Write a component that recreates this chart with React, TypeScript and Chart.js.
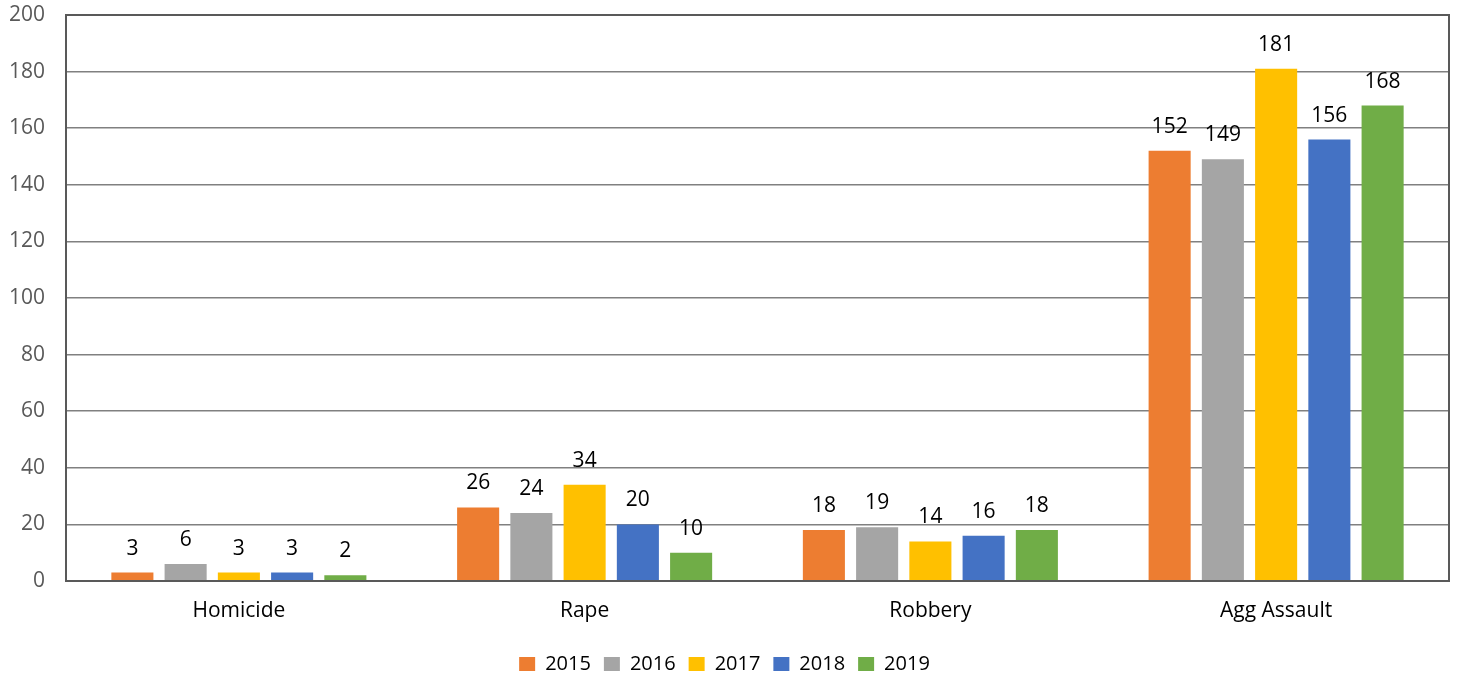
import React, { useEffect, useRef } from "react";
import { Chart, registerables } from "chart.js";

Chart.register(...registerables);

const categories = ["Homicide", "Rape", "Robbery", "Agg Assault"];
const seriesNames = ["2015", "2016", "2017", "2018", "2019"];
const values2015 = [3, 26, 18, 152];
const values2016 = [6, 24, 19, 149];
const values2017 = [3, 34, 14, 181];
const values2018 = [3, 20, 16, 156];
const values2019 = [2, 10, 18, 168];
const seriesColors = ["#ED7D31", "#A5A5A5", "#FFC000", "#4472C4", "#70AD47"];

const FONT = "'Open Sans', sans-serif";

const valueLabels = {
  id: "valueLabels",
  afterDatasetsDraw(chart: any) {
    const ctx = chart.ctx;
    ctx.save();
    ctx.font = `21px ${FONT}`;
    ctx.fillStyle = "#000000";
    ctx.textAlign = "center";
    ctx.textBaseline = "alphabetic";
    chart.data.datasets.forEach((ds: any, i: number) => {
      const meta = chart.getDatasetMeta(i);
      meta.data.forEach((el: any, j: number) => {
        ctx.fillText(String(ds.data[j]), el.x, el.y - 18);
      });
    });
    ctx.restore();
  },
};

const frame = {
  id: "frame",
  afterDraw(chart: any) {
    const { ctx, chartArea } = chart;
    ctx.save();
    ctx.strokeStyle = "#595959";
    ctx.lineWidth = 2;
    ctx.strokeRect(chartArea.left, chartArea.top, chartArea.right - chartArea.left, chartArea.bottom - chartArea.top);
    ctx.restore();
  },
};

export default function App() {
  const ref = useRef<HTMLCanvasElement | null>(null);
  useEffect(() => {
    document.body.style.margin = "0";
    const all = [values2015, values2016, values2017, values2018, values2019];
    const chart = new Chart(ref.current as HTMLCanvasElement, {
      type: "bar",
      data: {
        labels: categories,
        datasets: seriesNames.map((name, i) => ({
          label: name,
          data: all[i],
          backgroundColor: seriesColors[i],
          borderWidth: 0,
          barPercentage: 0.79,
          categoryPercentage: 0.77,
        })),
      },
      options: {
        animation: false,
        responsive: false,
        maintainAspectRatio: false,
        layout: { padding: { left: 0, right: 8, top: 15, bottom: -5 } },
        plugins: {
          legend: {
            position: "bottom",
            labels: {
              font: { family: FONT, size: 20 },
              color: "#000000",
              boxWidth: 16,
              boxHeight: 14,
              padding: 13,
            },
          },
          tooltip: { enabled: false },
        },
        scales: {
          x: {
            grid: { display: false, drawTicks: false },
            border: { display: true, color: "#595959", width: 2 },
            ticks: { font: { family: FONT, size: 21 }, color: "#000000", padding: 17 },
            afterFit: (s: any) => {
              s.height = 60;
            },
          },
          y: {
            min: 0,
            max: 200,
            grid: { color: "#808080", lineWidth: 1.5, drawTicks: false },
            border: { display: true, color: "#595959", width: 2 },
            ticks: { stepSize: 20, font: { family: FONT, size: 21 }, color: "#595959", padding: 21 },
            afterFit: (s: any) => {
              s.width = 66;
              s.paddingTop = 0;
              s.paddingBottom = 0;
            },
          },
        },
      },
      plugins: [valueLabels, frame],
    });
    return () => chart.destroy();
  }, []);
  return <canvas ref={ref} width={1457} height={679} style={{ display: "block" }} />;
}
